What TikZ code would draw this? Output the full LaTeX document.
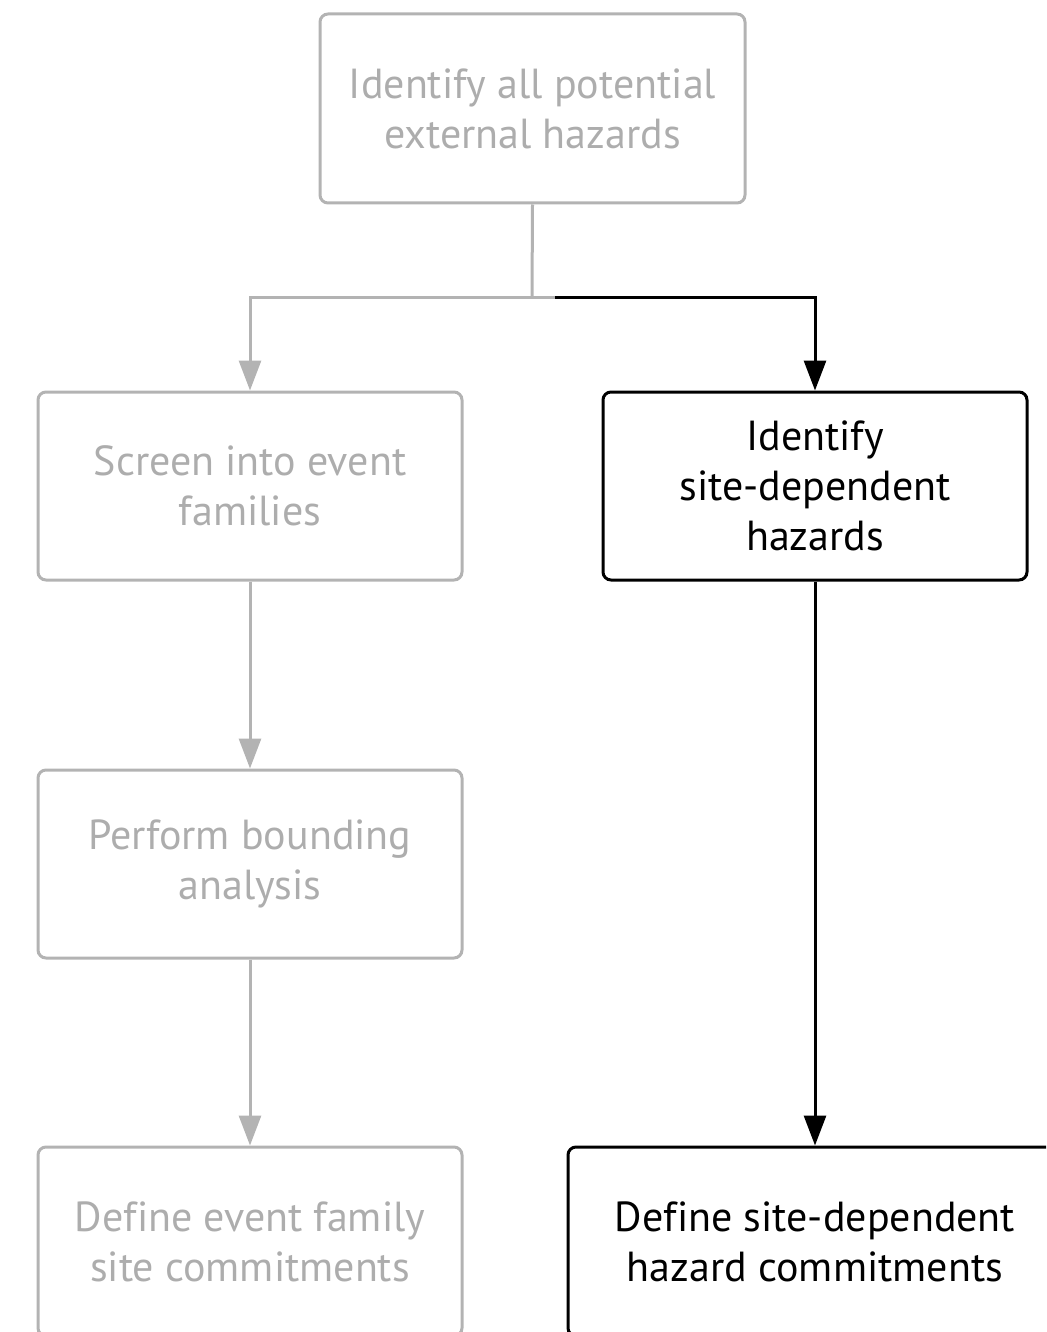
\documentclass[tikz,border=0pt]{standalone}
\usepackage{fontspec}
\setmainfont[Ligatures=NoCommon]{PT Sans}
\usetikzlibrary{arrows.meta}
\definecolor{dim}{HTML}{B3B3B3}
\definecolor{dimtext}{HTML}{ADADAD}
\begin{document}
\begin{tikzpicture}[x=1pt,y=-1pt,
  box/.style={draw, line width=3pt, rounded corners=8pt, inner sep=0pt,
    align=center, font=\fontsize{42}{50}\selectfont},
  faded/.style={box, draw=dim, text=dimtext},
  active/.style={box, draw=black, text=black},
  dimline/.style={draw=dim, line width=3pt},
  darkline/.style={draw=black, line width=3pt},
  dimarrow/.style={dimline, -{Triangle[width=22pt,length=30pt]}},
  darkarrow/.style={darkline, -{Triangle[width=22pt,length=30pt]}}]
\useasboundingbox (0,0) rectangle (1046,1332);
\clip (0,0) rectangle (1046,1332);

% grey branch: generic event families
\node[faded, minimum width=425pt, minimum height=189pt] (top) at (532.5,108.5)
  {Identify all potential\\external hazards};
\node[faded, minimum width=424pt, minimum height=188pt] (screen) at (250,486)
  {Screen into event\\families};
\node[faded, minimum width=424pt, minimum height=188pt] (bound) at (250,864)
  {Perform bounding\\analysis};
\node[faded, minimum width=424pt, minimum height=189pt] (family) at (250,1241.5)
  {Define event family\\site commitments};

% black branch: site-dependent hazards
\node[active, minimum width=424pt, minimum height=188pt] (siteid) at (815,486)
  {Identify\\site-dependent\\hazards};
\node[active, minimum width=494pt, minimum height=189pt] (sitecom) at (815,1241.5)
  {Define site-dependent\\hazard commitments};

\coordinate (j) at (532,297);
\coordinate (jr) at (555,297);

% connectors
\draw[dimline] (top.south) -- (j);
\draw[dimarrow] (jr) -| (screen.north);
\draw[darkarrow] (jr) -| (siteid.north);
\draw[dimarrow] (screen.south) -- (bound.north);
\draw[dimarrow] (bound.south) -- (family.north);
\draw[darkarrow] (siteid.south) -- (sitecom.north);
\end{tikzpicture}
\end{document}
